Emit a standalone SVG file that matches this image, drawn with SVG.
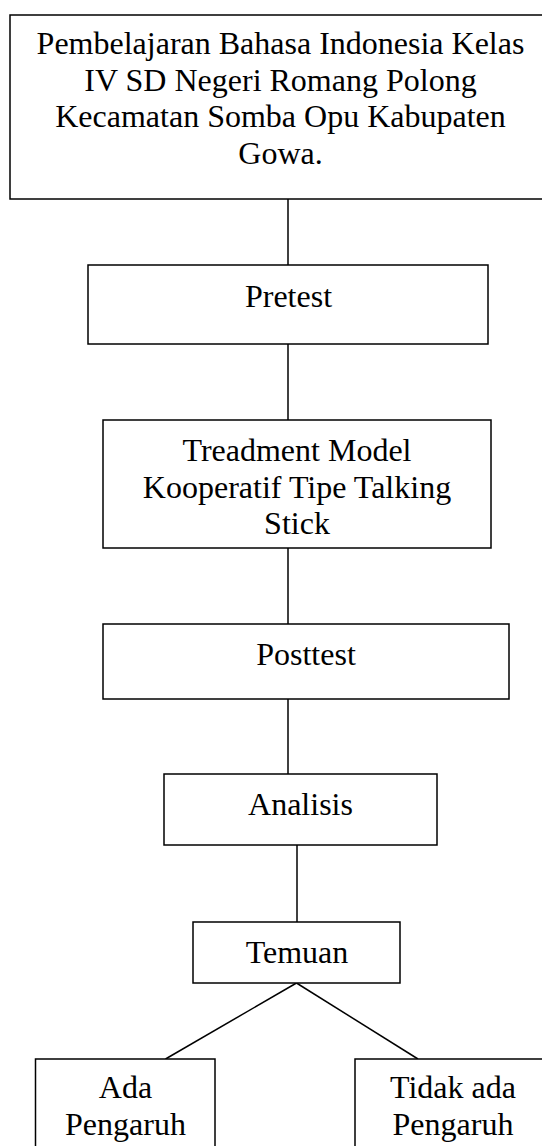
<svg xmlns="http://www.w3.org/2000/svg" width="542" height="1146" viewBox="0 0 542 1146">
<style>
.box{fill:#fff;stroke:#000;stroke-width:1.5}
.ln{stroke:#000;stroke-width:1.5;fill:none}
text{font-family:"Liberation Serif","Times New Roman",serif;font-size:32px;fill:#000;text-anchor:middle}
</style>
<rect width="542" height="1146" fill="#fff"/>
<g id="connectors">
<line class="ln" x1="288" y1="199" x2="288" y2="265"/>
<line class="ln" x1="288" y1="344" x2="288" y2="420"/>
<line class="ln" x1="288" y1="548" x2="288" y2="624"/>
<line class="ln" x1="288" y1="699" x2="288" y2="774"/>
<line class="ln" x1="297" y1="845" x2="297" y2="922"/>
<line class="ln" x1="296.5" y1="983" x2="165.5" y2="1059"/>
<line class="ln" x1="296.5" y1="983" x2="418" y2="1059"/>
</g>
<g id="node-top">
<rect class="box" x="10" y="15" width="541" height="184"/>
<text x="280.5" y="54">Pembelajaran Bahasa Indonesia Kelas</text>
<text x="280.5" y="90.7">IV SD Negeri Romang Polong</text>
<text x="280.5" y="127.4">Kecamatan Somba Opu Kabupaten</text>
<text x="280.5" y="164.1">Gowa.</text>
</g>
<g id="node-pretest">
<rect class="box" x="88" y="265" width="400" height="79"/>
<text x="288.5" y="307">Pretest</text>
</g>
<g id="node-treatment">
<rect class="box" x="103" y="420" width="388" height="128"/>
<text x="297" y="461">Treadment Model</text>
<text x="297" y="497.7">Kooperatif Tipe Talking</text>
<text x="297" y="534.4">Stick</text>
</g>
<g id="node-posttest">
<rect class="box" x="103" y="624" width="406" height="75"/>
<text x="306" y="665">Posttest</text>
</g>
<g id="node-analisis">
<rect class="box" x="164" y="774" width="273" height="71"/>
<text x="300.5" y="815">Analisis</text>
</g>
<g id="node-temuan">
<rect class="box" x="193" y="922" width="207" height="61"/>
<text x="297" y="963">Temuan</text>
</g>
<g id="node-ada">
<rect class="box" x="35.5" y="1059" width="179.5" height="110"/>
<text x="125.5" y="1098">Ada</text>
<text x="125.5" y="1135">Pengaruh</text>
</g>
<g id="node-tidak">
<rect class="box" x="355" y="1059" width="196" height="110"/>
<text x="453" y="1098">Tidak ada</text>
<text x="453" y="1135">Pengaruh</text>
</g>
</svg>
